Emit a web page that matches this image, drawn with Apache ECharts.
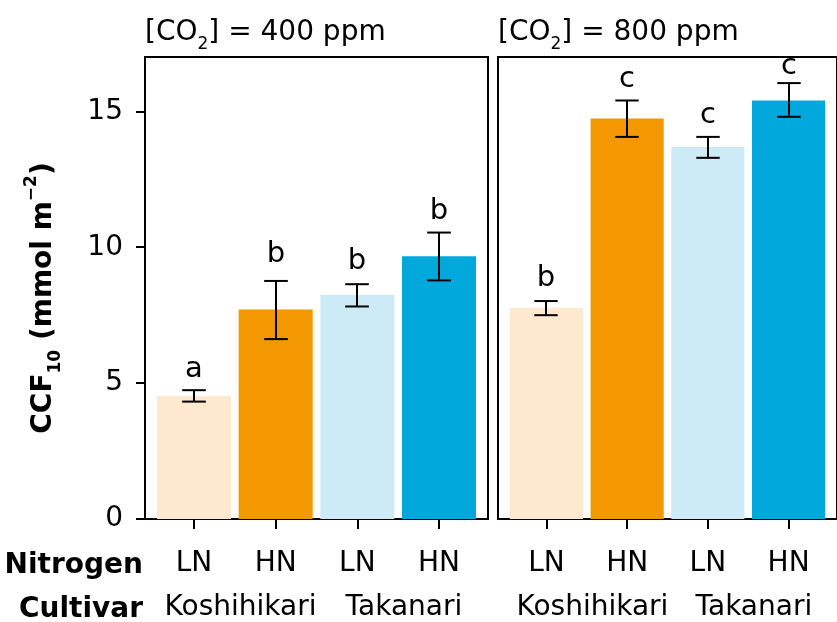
<!DOCTYPE html>
<html>
<head>
<meta charset="utf-8">
<script src="https://cdn.jsdelivr.net/npm/echarts@6/dist/echarts.min.js"></script>
<style>
html, body { margin: 0; padding: 0; background: #fff; }
#chart { width: 837px; height: 622px; }
</style>
</head>
<body>
<div id="chart"></div>
<script>
// categories
const nitrogen = ['LN', 'HN', 'LN', 'HN'];
const cultivars = ['Koshihikari', 'Takanari'];
const barColors = ['#FCE9CF', '#F39800', '#CDEBF6', '#00A8DB'];
const yTicks = [0, 5, 10, 15];

// [CO2] = 400 ppm
const mean400 = [4.53, 7.71, 8.25, 9.67];
const low400 = [4.32, 6.62, 7.82, 8.78];
const high400 = [4.74, 8.76, 8.64, 10.54];
const letters400 = ['a', 'b', 'b', 'b'];
const letterY400 = [5.15, 9.38, 9.12, 10.96];

// [CO2] = 800 ppm
const mean800 = [7.77, 14.74, 13.69, 15.4];
const low800 = [7.5, 14.06, 13.29, 14.8];
const high800 = [8.02, 15.4, 14.06, 16.04];
const letters800 = ['b', 'c', 'c', 'c'];
const letterY800 = [8.47, 15.79, 14.49, 16.28];

const FONT = 'DejaVu Sans';
const BAR_W = 0.906;   // in category units
const CAP_W = 0.29;

function rows(mean, low, high, ly) {
  return mean.map((m, i) => [i, m, low[i], high[i], ly[i]]);
}

function makeRender(letters) {
  return function (params, api) {
    const i = api.value(0);
    const base = api.coord([i, 0]);
    const top = api.coord([i, api.value(1)]);
    const lo = api.coord([i, api.value(2)]);
    const hi = api.coord([i, api.value(3)]);
    const lab = api.coord([i, api.value(4)]);
    const w = api.size([BAR_W, 0])[0];
    const cw = api.size([CAP_W, 0])[0];
    const x = Math.round(base[0]);
    const line = { stroke: '#000', lineWidth: 2 };
    return {
      type: 'group',
      children: [
        { type: 'rect', shape: { x: base[0] - w / 2, y: top[1], width: w, height: base[1] - top[1] },
          style: { fill: barColors[params.dataIndex] } },
        { type: 'line', shape: { x1: x, y1: lo[1], x2: x, y2: hi[1] }, style: line },
        { type: 'line', shape: { x1: x - cw / 2, y1: lo[1], x2: x + cw / 2, y2: lo[1] }, style: line },
        { type: 'line', shape: { x1: x - cw / 2, y1: hi[1], x2: x + cw / 2, y2: hi[1] }, style: line },
        { type: 'text', x: x, y: lab[1] - 10,
          style: { text: letters[params.dataIndex], fill: '#000', fontSize: 29, fontFamily: FONT,
                   align: 'center', verticalAlign: 'middle' } }
      ]
    };
  };
}

function xAxisFor(g) {
  return {
    type: 'value', gridIndex: g, min: -0.6, max: 3.6,
    axisLine: { show: true, onZero: false, lineStyle: { color: '#000', width: 2 } },
    axisTick: { show: true, length: 10, customValues: [0, 1, 2, 3], lineStyle: { color: '#000', width: 2 } },
    axisLabel: { customValues: [0, 1, 2, 3], margin: 31, color: '#000', fontSize: 28, fontFamily: FONT,
                 formatter: v => nitrogen[Math.round(v)] },
    splitLine: { show: false }
  };
}

function cultivarAxisFor(g) {
  return {
    type: 'value', gridIndex: g, min: -0.6, max: 3.6, position: 'bottom',
    axisLine: { show: false, onZero: false }, axisTick: { show: false }, splitLine: { show: false },
    axisLabel: { customValues: [0.57, 2.57], margin: 75, color: '#000', fontSize: 28, fontFamily: FONT,
                 formatter: v => cultivars[v < 1.5 ? 0 : 1] }
  };
}

function yAxisFor(g, labels) {
  return {
    type: 'value', gridIndex: g, min: 0, max: 17,
    axisLine: { show: true, onZero: false, lineStyle: { color: '#000', width: 2 } },
    axisTick: { show: labels, length: 9, customValues: yTicks, lineStyle: { color: '#000', width: 2 } },
    axisLabel: { show: labels, customValues: yTicks, margin: 22, color: '#000', fontSize: 28, fontFamily: FONT },
    splitLine: { show: false }
  };
}

const subRich = {
  t: { fontSize: 28, lineHeight: 41, fontFamily: FONT, fill: '#000', verticalAlign: 'middle' },
  tb: { fontSize: 28, lineHeight: 41, fontFamily: FONT, fontWeight: 'bold', fill: '#000', verticalAlign: 'middle' },
  s: { fontSize: 17, lineHeight: 17, fontFamily: FONT, fill: '#000', verticalAlign: 'bottom' },
  sb: { fontSize: 17, lineHeight: 17, fontFamily: FONT, fontWeight: 'bold', fill: '#000', verticalAlign: 'bottom' },
  pb: { fontSize: 17, lineHeight: 27, fontFamily: FONT, fontWeight: 'bold', fill: '#000', verticalAlign: 'top' }
};

const chart = echarts.init(document.getElementById('chart'), null, { renderer: 'canvas' });

chart.setOption({
  animation: false,
  backgroundColor: '#fff',
  textStyle: { fontFamily: FONT },
  grid: [
    { left: 145, top: 57, width: 343, height: 465, show: true, borderColor: '#000', borderWidth: 2, backgroundColor: 'transparent' },
    { left: 498, top: 57, width: 343, height: 465, show: true, borderColor: '#000', borderWidth: 2, backgroundColor: 'transparent' }
  ],
  xAxis: [xAxisFor(0), xAxisFor(1), cultivarAxisFor(0), cultivarAxisFor(1)],
  yAxis: [yAxisFor(0, true), yAxisFor(1, false)],
  series: [
    { type: 'custom', xAxisIndex: 0, yAxisIndex: 0, renderItem: makeRender(letters400),
      data: rows(mean400, low400, high400, letterY400), clip: false },
    { type: 'custom', xAxisIndex: 1, yAxisIndex: 1, renderItem: makeRender(letters800),
      data: rows(mean800, low800, high800, letterY800), clip: false }
  ],
  graphic: [
    { type: 'text', x: 145, y: 33,
      style: { text: '{t|[CO}{s|2}{t|] = 400 ppm}', rich: subRich, align: 'left', verticalAlign: 'middle' } },
    { type: 'text', x: 498, y: 33,
      style: { text: '{t|[CO}{s|2}{t|] = 800 ppm}', rich: subRich, align: 'left', verticalAlign: 'middle' } },
    { type: 'text', x: 44, y: 298, rotation: Math.PI / 2,
      style: { text: '{tb|CCF}{sb|10}{tb| (mmol m}{pb|\u22122}{tb|)}', rich: subRich, align: 'center', verticalAlign: 'middle' } },
    { type: 'text', x: 143, y: 566,
      style: { text: 'Nitrogen', fill: '#000', fontSize: 28, fontWeight: 'bold', fontFamily: FONT, align: 'right', verticalAlign: 'middle' } },
    { type: 'text', x: 143, y: 610,
      style: { text: 'Cultivar', fill: '#000', fontSize: 28, fontWeight: 'bold', fontFamily: FONT, align: 'right', verticalAlign: 'middle' } }
  ]
});
</script>
</body>
</html>
